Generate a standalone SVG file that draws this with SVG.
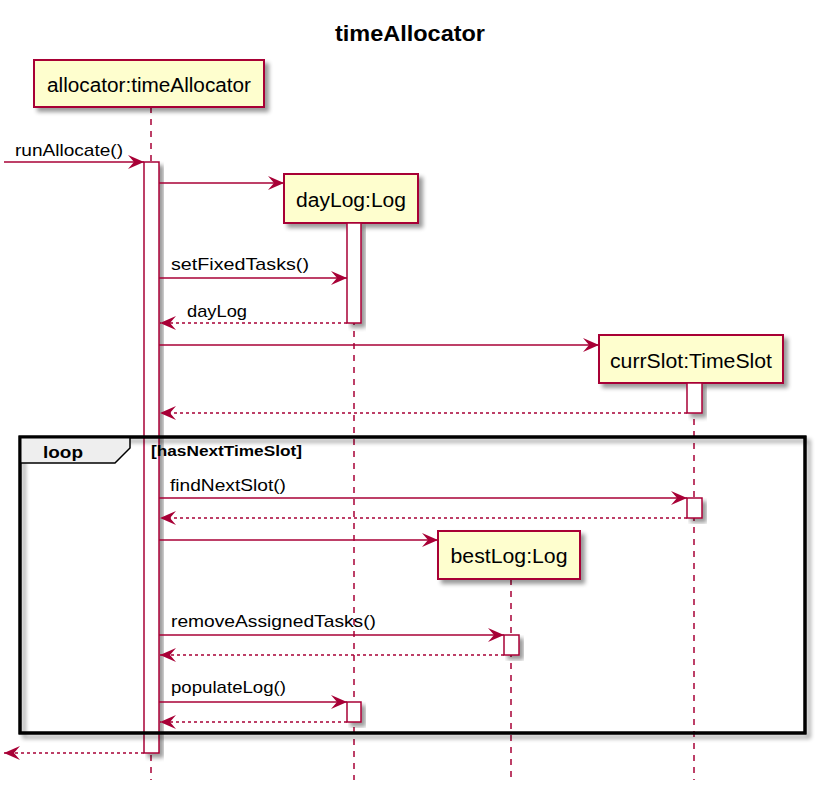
<svg xmlns="http://www.w3.org/2000/svg" width="819" height="797" viewBox="0 0 819 797">
<style>
.title{font-family:"Liberation Sans",Arial,sans-serif;font-weight:bold;font-size:22px;fill:#000}
.pt{font-family:"Liberation Sans",Arial,sans-serif;font-size:20px;fill:#000;text-anchor:middle}
.msg{font-family:"Liberation Sans",Arial,sans-serif;font-size:17px;fill:#000}
.box{fill:#FEFECE;stroke:#A80036;stroke-width:2}
.act{fill:#FFFFFF;stroke:#A80036;stroke-width:1.5}
.life{stroke:#A80036;stroke-width:1.5;stroke-dasharray:6,6;fill:none}
.arr{stroke:#A80036;stroke-width:1.5;fill:none;marker-end:url(#ah)}
.ret{stroke:#A80036;stroke-width:1.5;fill:none;stroke-dasharray:3,3;marker-end:url(#ah)}
.frame{fill:none;stroke:#000;stroke-width:3}
.tab{fill:#EEEEEE;stroke:#000;stroke-width:1.5}
.lbl{font-family:"Liberation Sans",Arial,sans-serif;font-weight:bold;font-size:17px;fill:#000}
.cond{font-family:"Liberation Sans",Arial,sans-serif;font-weight:bold;font-size:14px;fill:#000}
</style>
<defs>
<filter id="sh" x="-20%" y="-20%" width="150%" height="150%">
<feGaussianBlur in="SourceAlpha" stdDeviation="2"/>
<feOffset dx="4" dy="4" result="b"/>
<feComponentTransfer><feFuncA type="linear" slope="0.4"/></feComponentTransfer>
<feMerge><feMergeNode/><feMergeNode in="SourceGraphic"/></feMerge>
</filter>
<marker id="ah" viewBox="-17 -8 18 16" refX="0" refY="0" markerWidth="18" markerHeight="16" orient="auto" markerUnits="userSpaceOnUse">
<path d="M0,0 L-16,-7 L-10,0 L-16,7 Z" fill="#A80036"/>
</marker>
</defs>
<rect width="819" height="797" fill="#FFFFFF"/>
<text class="title" x="335" y="41" textLength="150" lengthAdjust="spacingAndGlyphs">timeAllocator</text>

<g id="lifelines">
<line class="life" x1="151" y1="107" x2="151" y2="780"/>
<line class="life" x1="354" y1="223" x2="354" y2="780"/>
<line class="life" x1="694" y1="383" x2="694" y2="780"/>
<line class="life" x1="511" y1="579" x2="511" y2="780"/>
</g>

<g id="allocator">
<rect class="box" x="34" y="60" width="230" height="47" filter="url(#sh)"/>
<text class="pt" x="149" y="92" textLength="204" lengthAdjust="spacingAndGlyphs">allocator:timeAllocator</text>
<rect class="act" x="144" y="162" width="15" height="591" filter="url(#sh)"/>
</g>

<g id="dayLog">
<rect class="box" x="284" y="174" width="134" height="49" filter="url(#sh)"/>
<text class="pt" x="351" y="207" textLength="110" lengthAdjust="spacingAndGlyphs">dayLog:Log</text>
<rect class="act" x="347" y="223" width="14" height="100" filter="url(#sh)"/>
<rect class="act" x="347" y="702" width="14" height="20" filter="url(#sh)"/>
</g>

<g id="currSlot">
<rect class="box" x="599" y="335" width="184" height="48" filter="url(#sh)"/>
<text class="pt" x="691" y="368" textLength="162" lengthAdjust="spacingAndGlyphs">currSlot:TimeSlot</text>
<rect class="act" x="687" y="383" width="15" height="30" filter="url(#sh)"/>
<rect class="act" x="687" y="498" width="15" height="20" filter="url(#sh)"/>
</g>

<g id="bestLog">
<rect class="box" x="438" y="531" width="142" height="48" filter="url(#sh)"/>
<text class="pt" x="509" y="563" textLength="117" lengthAdjust="spacingAndGlyphs">bestLog:Log</text>
<rect class="act" x="504" y="635" width="15" height="20" filter="url(#sh)"/>
</g>

<g id="loop">
<rect class="frame" x="20" y="437" width="785" height="296" filter="url(#sh)"/>
<path class="tab" d="M20,437 H130 V448 L115,463 H20 Z"/>
<rect x="20" y="437" width="785" height="296" fill="none" stroke="#000" stroke-width="3"/>
<text class="lbl" x="43" y="458" textLength="40" lengthAdjust="spacingAndGlyphs">loop</text>
<text class="cond" x="151" y="456" textLength="151" lengthAdjust="spacingAndGlyphs">[hasNextTimeSlot]</text>
</g>

<g id="connectors">
<line class="arr" x1="4" y1="162" x2="144" y2="162"/>
<text class="msg" x="15" y="156" textLength="108" lengthAdjust="spacingAndGlyphs">runAllocate()</text>
<line class="arr" x1="159" y1="183" x2="284" y2="183"/>
<line class="arr" x1="159" y1="278" x2="347" y2="278"/>
<text class="msg" x="171" y="270" textLength="138" lengthAdjust="spacingAndGlyphs">setFixedTasks()</text>
<line class="ret" x1="347" y1="323" x2="160" y2="323"/>
<text class="msg" x="187" y="317" textLength="60" lengthAdjust="spacingAndGlyphs">dayLog</text>
<line class="arr" x1="159" y1="345" x2="599" y2="345"/>
<line class="ret" x1="687" y1="413" x2="160" y2="413"/>
<line class="arr" x1="159" y1="498" x2="687" y2="498"/>
<text class="msg" x="170" y="491" textLength="116" lengthAdjust="spacingAndGlyphs">findNextSlot()</text>
<line class="ret" x1="687" y1="518" x2="160" y2="518"/>
<line class="arr" x1="159" y1="540" x2="438" y2="540"/>
<line class="arr" x1="159" y1="635" x2="504" y2="635"/>
<text class="msg" x="171" y="627" textLength="205" lengthAdjust="spacingAndGlyphs">removeAssignedTasks()</text>
<line class="ret" x1="504" y1="655" x2="160" y2="655"/>
<line class="arr" x1="159" y1="702" x2="347" y2="702"/>
<text class="msg" x="171" y="693" textLength="115" lengthAdjust="spacingAndGlyphs">populateLog()</text>
<line class="ret" x1="347" y1="722" x2="160" y2="722"/>
<line class="ret" x1="144" y1="753" x2="4" y2="753"/>
</g>
</svg>
